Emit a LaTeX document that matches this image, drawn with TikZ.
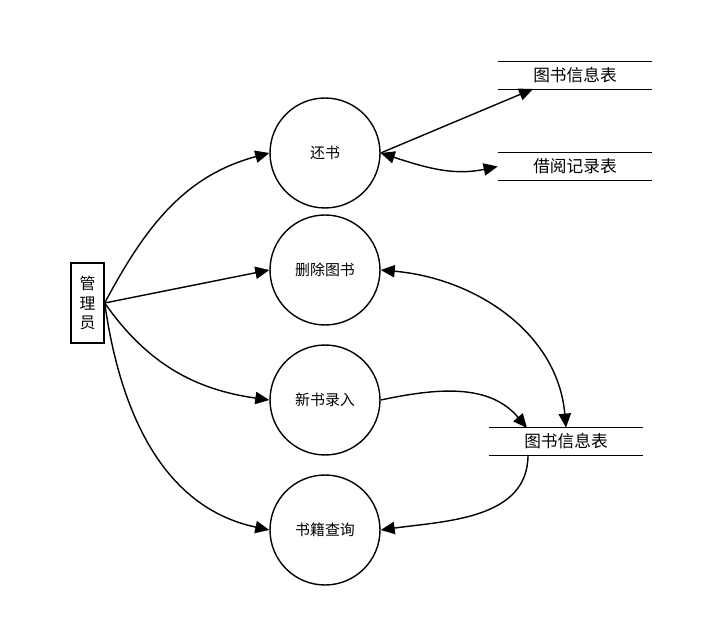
\documentclass[tikz,border=0pt]{standalone}
\usepackage{fontspec}
\setmainfont{Noto Sans CJK SC}
\usetikzlibrary{arrows.meta}

\begin{document}
\begin{tikzpicture}[x=0.02cm,y=-0.02cm,
    font=\fontsize{8.5}{10}\selectfont,
    proc/.style={draw,circle,line width=0.8pt,minimum size=2.2cm,inner sep=0pt},
    agent/.style={draw,rectangle,line width=0.8pt,minimum width=0.66cm,minimum height=1.6cm,inner sep=0pt,align=center,font=\fontsize{9}{11}\selectfont},
    store/.style={minimum width=3.08cm,minimum height=0.54cm,inner sep=0pt,font=\fontsize{9.5}{11}\selectfont},
    flow/.style={line width=0.8pt,-{Triangle[length=8pt,width=7pt]}},
    dflow/.style={line width=0.8pt,{Triangle[length=8pt,width=7pt]}-{Triangle[length=8pt,width=7pt]}}]
    \useasboundingbox (0,0) rectangle (722,617);

    % external entity
    \node[agent] (admin) at (87.5,303) {管\\理\\员};

    % processes
    \node[proc] (ret) at (325,153) {还书};
    \node[proc] (del) at (325,270) {删除图书};
    \node[proc] (add) at (325,400) {新书录入};
    \node[proc] (qry) at (325,530) {书籍查询};

    % data stores
    \node[store] (bookA) at (575,75.5) {图书信息表};
    \node[store] (borrow) at (575,166.5) {借阅记录表};
    \node[store] (bookB) at (566,441.5) {图书信息表};
    \foreach \s in {bookA,borrow,bookB}{
        \draw[line width=0.8pt] (\s.north west) -- (\s.north east);
        \draw[line width=0.8pt] (\s.south west) -- (\s.south east);
    }
    \coordinate (bookAin) at (533,89);
    \coordinate (bookBin) at (527,428);
    \coordinate (bookBout) at (528,455);

    % admin to processes
    \draw[flow] (admin.east) to[out=62,in=195] (ret.west);
    \draw[flow] (admin.east) -- (del.west);
    \draw[flow] (admin.east) to[out=-55,in=172] (add.west);
    \draw[flow] (admin.east) to[out=-82,in=168] (qry.west);

    % processes and stores
    \draw[flow] (ret.east) -- (bookAin);
    \draw[dflow] (ret.east) to[out=-18,in=192] (borrow.west);
    \draw[dflow] (del.east) to[out=-5,in=95] (bookB.north);
    \draw[flow] (add.east) to[out=12,in=130] (bookBin);
    \draw[flow] (bookBout) to[out=-90,in=8] (qry.east);
\end{tikzpicture}
\end{document}
